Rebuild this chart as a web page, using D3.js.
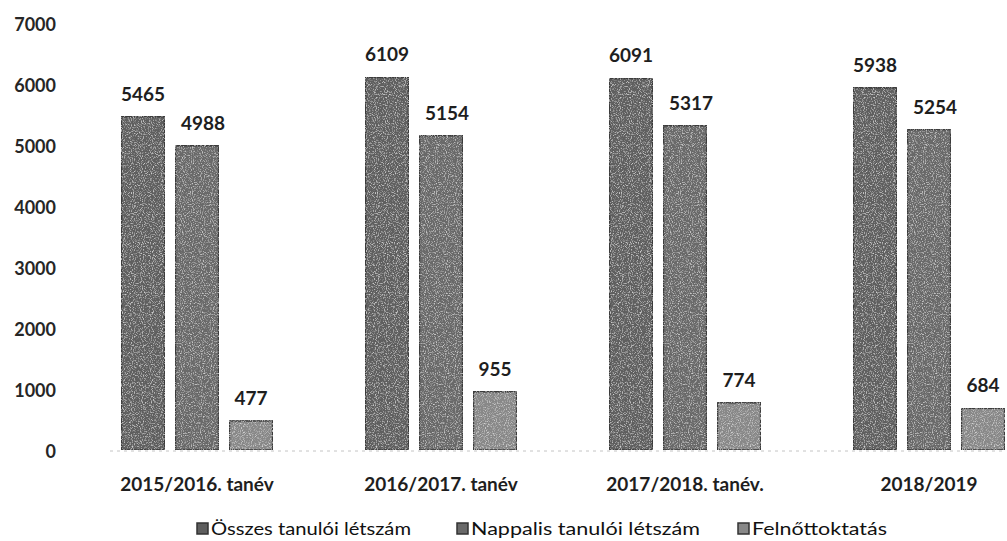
<!DOCTYPE html>
<html><head><meta charset="utf-8">
<script src="https://cdn.jsdelivr.net/npm/d3@7"></script>
<style>body{margin:0;background:#fff}svg{display:block}</style>
</head><body>
<svg id="c" width="1007" height="541"></svg>
<script>
const categories = ["2015/2016. tanév","2016/2017. tanév","2017/2018. tanév.","2018/2019"];
const seriesNames = ["Összes tanulói létszám","Nappalis tanulói létszám","Felnőttoktatás"];
const osszes = [5465, 6109, 6091, 5938];
const nappali = [4988, 5154, 5317, 5254];
const felnott = [477, 955, 774, 684];
const yTicks = [0,1000,2000,3000,4000,5000,6000,7000];

const series = [osszes, nappali, felnott];
const fills = ["#5e5e5e", "#696969", "#888888"];
const svg = d3.select("#c");
const font = "Lato, 'Open Sans', sans-serif";

const defs = svg.append("defs");
const f = defs.append("filter").attr("id","grain").attr("x",0).attr("y",0).attr("width",1).attr("height",1);
f.append("feTurbulence").attr("type","fractalNoise").attr("baseFrequency",0.9).attr("numOctaves",2).attr("seed",3).attr("result","n");
f.append("feColorMatrix").attr("in","n").attr("type","matrix")
 .attr("values","0 0 0 0 0.78  0 0 0 0 0.78  0 0 0 0 0.78  2.2 0 0 0 -1.1").attr("result","s");
f.append("feComposite").attr("in","s").attr("in2","SourceGraphic").attr("operator","in").attr("result","sp");
f.append("feMerge").call(m=>{m.append("feMergeNode").attr("in","SourceGraphic");m.append("feMergeNode").attr("in","sp");});

const y = d3.scaleLinear().domain([0,7000]).range([450,23]);
const x0 = d3.scaleBand().domain(categories).range([75,1051]).paddingInner(0.38).paddingOuter(0.19);
const x1 = d3.scaleBand().domain(d3.range(3)).range([0, x0.bandwidth()]).paddingInner(0.2);

// y axis labels
const yAxis = d3.axisLeft(y).tickValues(yTicks).tickSize(0).tickPadding(0).tickFormat(d3.format("d"));
const ya = svg.append("g").attr("transform","translate(56,1.5)").call(yAxis);
ya.select(".domain").remove();
ya.selectAll("text").attr("font-family",font).attr("font-size",18).attr("font-weight",700).attr("fill","#262626");

// faint baseline
svg.append("line").attr("x1",110).attr("x2",1005).attr("y1",y(0)+1).attr("y2",y(0)+1)
  .attr("stroke","#c4c4c4").attr("stroke-width",1).attr("stroke-dasharray","3,4");

const g = svg.append("g").selectAll("g").data(categories).join("g")
  .attr("transform", d=>`translate(${x0(d)},0)`);

g.selectAll("rect").data((d,i)=>series.map((s,k)=>({k, v:s[i]}))).join("rect")
  .attr("x", d=>x1(d.k)).attr("width", x1.bandwidth())
  .attr("y", d=>y(d.v)).attr("height", d=>y(0)-y(d.v))
  .attr("fill", d=>fills[d.k]).attr("stroke","#3a3a3a").attr("stroke-width",1.5)
  .attr("filter","url(#grain)");

g.selectAll("text.v").data((d,i)=>series.map((s,k)=>({k, v:s[i]}))).join("text").attr("class","v")
  .attr("x", d=>x1(d.k)+x1.bandwidth()/2 + (d.k===1?6:0))
  .attr("y", d=>y(d.v)-16)
  .attr("text-anchor","middle").attr("font-family",font).attr("font-size",19).attr("font-weight",700)
  .attr("fill","#1e1e1e").text(d=>d.v);

// category labels
const xa = svg.append("g").attr("transform",`translate(0,${y(0)})`)
  .call(d3.axisBottom(x0).tickSize(0).tickPadding(0));
xa.select(".domain").remove();
xa.selectAll("text").attr("dy",null).attr("y",41).attr("font-family",font).attr("font-size",19).attr("font-weight",700).attr("fill","#1e1e1e");

// legend
const legX = [197, 457, 738];
const legW = [200, 229, 135];
const lg = svg.append("g").selectAll("g").data(seriesNames).join("g")
  .attr("transform",(d,i)=>`translate(${legX[i]},529)`);
lg.append("rect").attr("x",0).attr("y",-6).attr("width",11).attr("height",11)
  .attr("fill",(d,i)=>fills[i]).attr("stroke","#333").attr("stroke-width",1.5);
lg.append("text").attr("x",14).attr("y",6).attr("font-family",font).attr("font-size",18).attr("font-weight",400)
  .attr("textLength",(d,i)=>legW[i]).attr("lengthAdjust","spacingAndGlyphs")
  .attr("fill","#111").text(d=>d);
</script>
</body></html>
